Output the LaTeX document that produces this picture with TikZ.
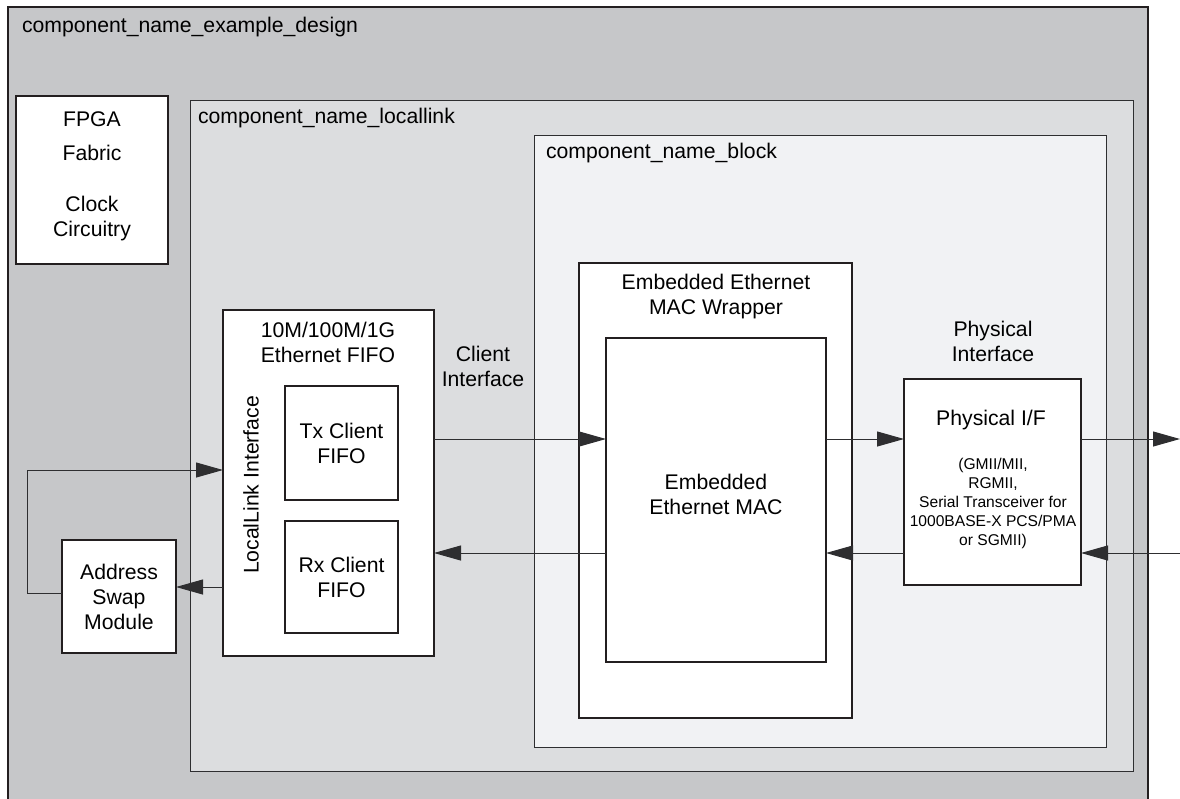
\documentclass[tikz,border=0pt]{standalone}
\usepackage{fontspec}
\setmainfont{Liberation Sans}
\usetikzlibrary{arrows.meta}
\definecolor{edgegray}{HTML}{231F20}
\definecolor{linegray}{HTML}{2E2E30}
\definecolor{designfill}{HTML}{C6C7C9}
\definecolor{linkfill}{HTML}{DCDDDF}
\definecolor{blockfill}{HTML}{F1F2F4}
\newcommand{\mainsize}{\fontsize{10.6}{12.5}\selectfont}
\newcommand{\smallsize}{\fontsize{7.8}{9.5}\selectfont}
\begin{document}
\begin{tikzpicture}[x=0.5pt,y=-0.5pt,
    >={Triangle[length=13.5pt,width=7.5pt]},
    every node/.style={inner sep=0pt,outer sep=0pt,font=\mainsize},
    area/.style={draw=linegray,line width=0.5pt,anchor=north west},
    unit/.style={draw=edgegray,line width=1pt,fill=white,anchor=north west,align=center},
    caption/.style={align=center},
    link/.style={draw=linegray,line width=0.5pt}]
\useasboundingbox (0,0) rectangle (1180,799);
% containers
\node[area,draw=edgegray,line width=1pt,fill=designfill,minimum width=570pt,minimum height=410pt] (design) at (8,7) {};
\node[area,fill=linkfill,minimum width=471.5pt,minimum height=335.5pt] (locallink) at (190,100) {};
\node[area,fill=blockfill,minimum width=286pt,minimum height=306pt] (block) at (534,135) {};
\node[anchor=base west] (designname) at (22,32) {component\_name\_example\_design};
\node[anchor=base west] (linkname) at (198,123) {component\_name\_locallink};
\node[anchor=base west] (blockname) at (546,158) {component\_name\_block};
% clock box and address swap
\node[unit,minimum width=76pt,minimum height=84pt] (fpga) at (16,96) {};
\node[caption] (fpgatext) at (92,176) {FPGA\\[4.5pt]Fabric\\[13pt]Clock\\Circuitry};
\node[unit,minimum width=57pt,minimum height=56.5pt] (asm) at (62,540) {};
\node[caption] at (asm.center) {Address\\Swap\\Module};
% fifo
\node[unit,minimum width=105.5pt,minimum height=173pt] (fifo) at (223,310) {};
\node[caption] (fifotext) at (328,342) {10M/100M/1G\\Ethernet FIFO};
\node[rotate=90] (lltext) at (251,485) {LocalLink Interface};
\node[unit,minimum width=56.5pt,minimum height=57pt] (tx) at (285,386) {Tx Client\\FIFO};
\node[unit,minimum width=56.5pt,minimum height=56pt] (rx) at (285,521) {Rx Client\\FIFO};
\node[caption] (clienttext) at (483,366) {Client\\Interface};
% mac wrapper
\node[unit,minimum width=136.5pt,minimum height=227.5pt] (wrapper) at (579,263) {};
\node[caption] (wraptext) at (716,297) {Embedded Ethernet\\MAC Wrapper};
\node[unit,minimum width=110pt,minimum height=162pt] (mac) at (606,338) {};
\node[caption] (mactext) at (716,494) {Embedded\\Ethernet MAC};
% physical interface
\node[caption] (phytitle) at (993,341) {Physical\\Interface};
\node[unit,minimum width=88.5pt,minimum height=103pt] (phy) at (904,379) {};
\node[caption] (phytext) at (991,420) {Physical I/F};
\node[caption,font=\smallsize] (phydetail) at (993,503) {(GMII/MII,\\RGMII,\\Serial Transceiver for\\1000BASE-X PCS/PMA\\or SGMII)};
% rows of the data paths
\coordinate (txrow) at (0,439);
\coordinate (rxrow) at (0,553);
\coordinate (looprow) at (0,470);
\coordinate (backrow) at (0,587);
\coordinate (txout) at (1180,439);
\coordinate (rxin) at (1180,553);
\coordinate (loopcorner) at (27,593);
% connectors
\draw[link,->] (fifo.east |- txrow) -- (mac.west |- txrow);
\draw[link,->] (mac.east |- txrow) -- (phy.west |- txrow);
\draw[link,->] (phy.east |- txrow) -- (txout);
\draw[link,->] (rxin) -- (phy.east |- rxrow);
\draw[link,->] (phy.west |- rxrow) -- (mac.east |- rxrow);
\draw[link,->] (mac.west |- rxrow) -- (fifo.east |- rxrow);
\draw[link,->] (fifo.west |- backrow) -- (asm.east |- backrow);
\draw[link,->] (asm.west |- loopcorner) -- (loopcorner) |- (fifo.west |- looprow);
\end{tikzpicture}
\end{document}
